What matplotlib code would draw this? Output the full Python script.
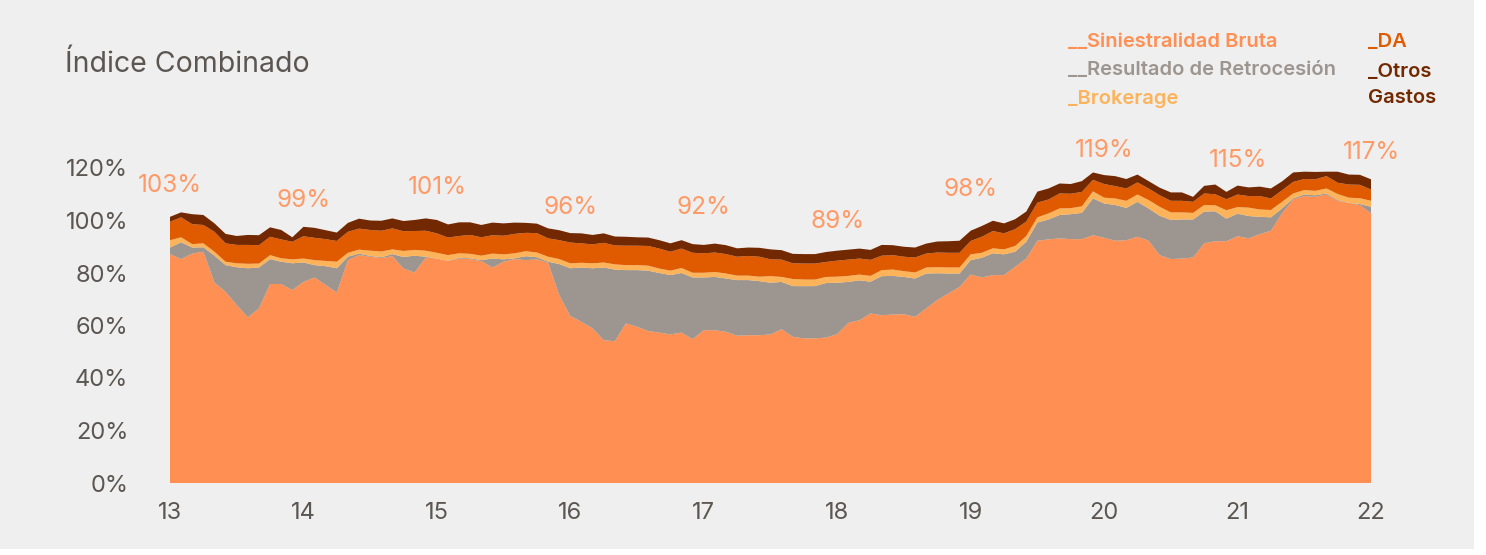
import numpy as np
import matplotlib.pyplot as plt
from matplotlib.patches import Rectangle

plt.rcParams['font.family'] = ['Inter', 'DejaVu Sans']

# monthly points from 2013 to 2022 (values in %)
years = 13 + np.arange(109) / 12.0

siniestralidad = [
    87.2, 85.3, 87.4, 88.1, 76.3, 72.8, 67.8, 63.1, 66.5, 75.8, 75.8, 73.5,
    76.6, 78.3, 75.4, 72.5, 84.9, 86.8, 86.2, 85.7, 86.4, 81.7, 80.2, 85.9,
    85.5, 84.6, 85.5, 85.3, 84.5, 82.1, 84.3, 85.3, 84.9, 85.2, 83.9, 71.6,
    63.6, 61.4, 58.9, 54.4, 54.0, 60.8, 59.5, 57.9, 57.3, 56.6, 57.3, 54.8,
    58.2, 58.2, 57.6, 56.1, 56.3, 56.3, 56.6, 58.6, 55.7, 55.1, 55.1, 55.4,
    56.7, 61.0, 62.0, 64.6, 63.9, 64.2, 64.3, 63.3, 66.5, 69.7, 72.2, 74.7,
    79.4, 78.3, 79.2, 79.2, 82.4, 85.5, 92.3, 92.8, 93.2, 92.9, 92.9, 94.4,
    93.4, 92.3, 92.5, 93.8, 92.3, 86.8, 85.3, 85.5, 85.9, 91.3, 92.1, 92.1,
    94.0, 93.2, 94.8, 96.1, 102.7, 108.0, 109.3, 109.0, 109.9, 107.5, 106.7, 105.9,
    102.7]
retrocesion = [
    2.5, 6.4, 2.3, 1.7, 10.3, 10.2, 14.4, 18.7, 15.6, 9.5, 8.5, 10.2,
    7.4, 4.7, 7.2, 9.3, 1.3, 0.6, 0.3, 0.3, 0.8, 4.4, 6.4, 0.3,
    0.0, 0.0, 0.3, 0.3, 0.4, 3.4, 0.9, 0.3, 1.5, 0.8, 0.4, 11.8,
    18.2, 20.7, 22.9, 27.7, 27.3, 20.3, 21.6, 23.0, 22.7, 22.6, 22.7, 23.5,
    20.1, 20.3, 20.3, 21.2, 21.0, 20.6, 19.7, 18.0, 19.3, 19.9, 19.9, 20.8,
    19.6, 15.6, 15.2, 12.1, 14.9, 14.7, 14.2, 14.6, 13.3, 10.2, 7.6, 5.1,
    5.5, 7.5, 8.3, 7.9, 5.7, 6.4, 6.9, 7.6, 8.9, 9.5, 10.0, 14.0,
    13.1, 13.6, 12.3, 13.3, 12.3, 15.0, 14.9, 14.9, 14.5, 12.1, 11.4, 8.6,
    8.6, 8.5, 6.6, 5.1, 1.9, 0.4, 0.6, 0.6, 0.4, 0.3, 0.0, 0.4,
    2.5]
brokerage = [
    2.8, 1.9, 1.3, 1.5, 1.5, 1.3, 1.5, 1.7, 1.5, 1.5, 1.3, 1.5,
    1.5, 1.9, 2.0, 2.5, 1.5, 1.5, 2.0, 2.2, 1.8, 2.3, 2.2, 2.3,
    2.2, 2.2, 1.7, 1.7, 1.7, 1.9, 1.9, 1.9, 1.9, 1.8, 1.9, 1.9,
    1.9, 1.8, 1.9, 1.9, 2.0, 1.9, 1.9, 1.9, 1.7, 1.7, 1.9, 1.8,
    1.8, 1.9, 1.9, 1.7, 1.7, 1.7, 2.5, 1.9, 2.7, 2.5, 2.5, 2.3,
    2.3, 2.3, 2.2, 2.2, 2.3, 2.4, 2.2, 2.3, 2.3, 2.3, 2.3, 2.3,
    2.2, 1.9, 1.9, 1.9, 2.2, 2.2, 2.0, 2.3, 2.5, 2.3, 2.5, 2.7,
    2.2, 2.5, 2.7, 2.8, 3.2, 3.4, 2.9, 2.7, 2.5, 2.5, 2.3, 3.2,
    2.5, 3.2, 2.8, 2.8, 2.5, 1.9, 1.7, 1.7, 1.9, 2.3, 2.0, 2.2,
    2.3]
da = [
    7.0, 7.6, 7.6, 7.0, 7.6, 7.0, 7.0, 7.2, 7.0, 7.0, 7.2, 6.7,
    8.5, 8.5, 8.3, 7.9, 8.0, 8.0, 7.9, 7.9, 8.0, 7.5, 7.2, 7.6,
    7.4, 6.7, 6.6, 7.2, 7.0, 7.0, 7.1, 7.4, 7.0, 7.4, 7.0, 7.2,
    7.9, 7.4, 7.2, 7.5, 7.2, 7.4, 7.4, 7.5, 7.6, 7.2, 7.4, 7.6,
    7.4, 7.4, 7.4, 7.2, 7.5, 7.6, 6.4, 6.6, 6.0, 6.1, 6.1, 5.7,
    6.1, 6.2, 6.1, 6.1, 5.5, 5.5, 5.5, 5.7, 5.3, 5.6, 5.6, 5.6,
    5.1, 6.1, 6.6, 6.1, 6.4, 5.5, 5.6, 5.3, 5.7, 5.5, 5.5, 4.4,
    5.2, 4.7, 4.7, 4.6, 4.4, 4.4, 4.4, 4.4, 4.2, 4.4, 4.2, 4.2,
    4.8, 4.4, 5.1, 4.4, 4.4, 4.4, 4.2, 4.4, 4.7, 4.3, 5.0, 5.1,
    4.3]
otros_gastos = [
    1.9, 1.9, 3.8, 3.8, 3.2, 3.6, 3.4, 3.8, 3.8, 3.6, 3.6, 1.7,
    3.6, 3.8, 3.4, 3.2, 3.4, 3.8, 3.6, 3.8, 3.8, 3.9, 4.2, 4.7,
    5.1, 5.0, 5.2, 4.8, 4.7, 4.8, 4.7, 4.3, 3.8, 3.6, 3.8, 3.8,
    3.6, 3.8, 3.6, 3.6, 3.4, 3.4, 3.2, 3.2, 3.2, 3.2, 3.2, 3.3,
    3.2, 3.4, 3.4, 3.2, 3.2, 3.4, 3.8, 3.6, 3.6, 3.6, 3.6, 3.8,
    3.8, 3.8, 3.8, 3.8, 4.1, 3.8, 3.8, 3.8, 3.8, 4.2, 4.4, 4.6,
    3.9, 4.1, 3.9, 3.8, 3.8, 3.8, 4.2, 4.2, 3.8, 3.7, 4.1, 2.8,
    3.4, 3.8, 3.6, 3.0, 2.8, 2.9, 3.2, 3.2, 1.9, 2.9, 3.7, 2.8,
    3.4, 3.3, 3.6, 3.8, 3.4, 3.6, 2.8, 2.8, 1.7, 4.2, 3.8, 3.8,
    3.9]

series_names = ['__Siniestralidad Bruta', '__Resultado de Retrocesión', '_Brokerage',
                '_DA', '_Otros\nGastos']
colors = ['#FF8F52', '#9D958F', '#FDB35A', '#E05B00', '#722800']

# yearly combined ratio labels
label_years = [13, 14, 15, 16, 17, 18, 19, 20, 21, 22]
label_values = ['103%', '99%', '101%', '96%', '92%', '89%', '98%', '119%', '115%', '117%']
label_y = [113.5, 107.5, 112.5, 104.8, 104.8, 99.5, 112, 126.5, 122.8, 126]

bg = '#EFEFEF'
txt = '#5B5651'

fig = plt.figure(figsize=(14.86, 5.55), dpi=100, facecolor='white')
fig.patches.append(Rectangle((0, 6/555), 1474/1486, 1 - 6/555, transform=fig.transFigure,
                             facecolor=bg, edgecolor='none', zorder=-10))

ax = fig.add_axes([170/1486, 72/555, 1201/1486, 315/555])
ax.patch.set_visible(False)

ax.stackplot(years, siniestralidad, retrocesion, brokerage, da, otros_gastos,
             colors=colors, linewidth=0, antialiased=True)

ax.set_xlim(13, 22)
ax.set_ylim(0, 120)
ax.set_xticks(range(13, 23))
ax.set_xticklabels([str(y) for y in range(13, 23)])
ax.set_yticks(range(0, 121, 20))
ax.set_yticklabels([f'{v}%' for v in range(0, 121, 20)])
ax.tick_params(axis='both', length=0, labelsize=17, labelcolor=txt)
ax.tick_params(axis='y', pad=30)
ax.tick_params(axis='x', pad=14)
for s in ax.spines.values():
    s.set_visible(False)

for x, lab, y in zip(label_years, label_values, label_y):
    ax.text(x, y, lab, ha='center', va='center', fontsize=17.5, color='#FF9A66',
            clip_on=False)

fig.text(65/1486, 1 - 64/555, 'Índice Combinado', fontsize=20.5, color=txt,
         ha='left', va='center')

# legend as coloured text
leg_pos = [(1068, 42), (1068, 70), (1068, 99), (1368, 42), (1368, 85)]
for (px, py), name, c in zip(leg_pos, series_names, colors):
    fig.text(px/1486, 1 - py/555, name, fontsize=14.5, color=c, ha='left', va='center',
             fontweight='semibold', linespacing=1.6)

fig.savefig('out.png', dpi=100, facecolor='white')
